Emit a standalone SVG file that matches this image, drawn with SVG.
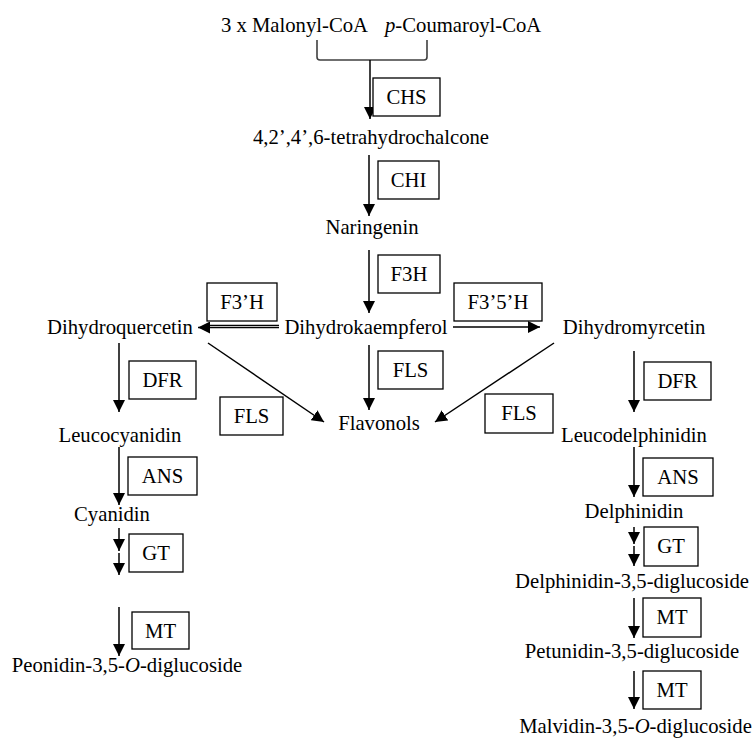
<svg xmlns="http://www.w3.org/2000/svg" width="755" height="738" viewBox="0 0 755 738">
<defs>
<marker id="ahs" viewBox="0 0 10 10" refX="10" refY="5" markerWidth="12" markerHeight="12" markerUnits="userSpaceOnUse" orient="auto">
<path d="M0,0 L10,5 L0,10 z" fill="#000"/>
</marker>
</defs>
<style>
text{font-family:"Liberation Serif","Times New Roman",serif;font-size:20.7px;fill:#000}
.c{text-anchor:middle}
.box{fill:#fff;stroke:#000;stroke-width:1.3}
.arr{stroke:#000;stroke-width:1.5;fill:none;marker-end:url(#ahs)}
.br{stroke:#404040;stroke-width:1.6;fill:none}
</style>
<rect width="755" height="738" fill="#fff"/>

<g id="connectors">
<path class="br" d="M317,40 V57 Q317,60 320,60 H424 Q427,60 427,57 V40"/>
<line class="arr" x1="370" y1="60" x2="370" y2="119"/>
<line class="arr" x1="369" y1="155" x2="369" y2="216"/>
<line class="arr" x1="369" y1="250" x2="369" y2="313"/>
<line class="arr" x1="369" y1="345" x2="369" y2="410"/>
<line x1="279" y1="325.3" x2="205" y2="325.3" stroke="#000" stroke-width="1.2"/>
<line class="arr" x1="279" y1="327.5" x2="198" y2="327.5"/>
<line class="arr" x1="453" y1="327" x2="540" y2="327"/>
<line class="arr" x1="208" y1="343" x2="324" y2="422"/>
<line class="arr" x1="554" y1="343" x2="435" y2="422"/>
<line class="arr" x1="119" y1="343" x2="119" y2="412"/>
<line class="arr" x1="634" y1="351" x2="634" y2="412"/>
<line class="arr" x1="119" y1="447" x2="119" y2="505"/>
<line class="arr" x1="634" y1="447" x2="634" y2="497"/>
<line class="arr" x1="119" y1="528" x2="119" y2="551"/>
<line class="arr" x1="119" y1="553" x2="119" y2="575"/>
<line class="arr" x1="119" y1="607" x2="119" y2="656"/>
<line class="arr" x1="634" y1="527" x2="634" y2="544"/>
<line class="arr" x1="634" y1="546" x2="634" y2="566"/>
<line class="arr" x1="634" y1="598" x2="634" y2="638"/>
<line class="arr" x1="634" y1="671" x2="634" y2="709"/>
</g>

<g id="substrates">
<text x="368" y="32" text-anchor="end">3 x Malonyl-CoA</text>
<text x="385" y="32"><tspan font-style="italic">p</tspan>-Coumaroyl-CoA</text>
</g>
<g id="chalcone"><text class="c" x="371" y="144">4,2’,4’,6-tetrahydrochalcone</text></g>
<g id="naringenin"><text class="c" x="372" y="234">Naringenin</text></g>
<g id="dihydrokaempferol"><text class="c" x="366" y="334">Dihydrokaempferol</text></g>
<g id="dihydroquercetin"><text class="c" x="120" y="334">Dihydroquercetin</text></g>
<g id="dihydromyrcetin"><text class="c" x="634" y="334">Dihydromyrcetin</text></g>
<g id="flavonols"><text class="c" x="379" y="430">Flavonols</text></g>
<g id="leucocyanidin"><text class="c" x="120" y="442">Leucocyanidin</text></g>
<g id="leucodelphinidin"><text class="c" x="634" y="442">Leucodelphinidin</text></g>
<g id="cyanidin"><text class="c" x="112" y="521">Cyanidin</text></g>
<g id="delphinidin"><text class="c" x="634" y="518">Delphinidin</text></g>
<g id="peonidin"><text class="c" x="127" y="672">Peonidin-3,5-<tspan font-style="italic">O</tspan>-diglucoside</text></g>
<g id="delphinidin-dg"><text class="c" x="632" y="588">Delphinidin-3,5-diglucoside</text></g>
<g id="petunidin"><text class="c" x="632" y="658">Petunidin-3,5-diglucoside</text></g>
<g id="malvidin"><text class="c" x="635.5" y="733">Malvidin-3,5-<tspan font-style="italic">O</tspan>-diglucoside</text></g>

<g id="e-chs"><rect class="box" x="373" y="78" width="67" height="38"/><text class="c" x="406.5" y="104">CHS</text></g>
<g id="e-chi"><rect class="box" x="378" y="161" width="61" height="38"/><text class="c" x="408.5" y="187">CHI</text></g>
<g id="e-f3h"><rect class="box" x="378" y="255" width="62" height="38"/><text class="c" x="409" y="281">F3H</text></g>
<g id="e-f3ph"><rect class="box" x="207" y="283" width="70" height="38"/><text class="c" x="242" y="309">F3’H</text></g>
<g id="e-f35h"><rect class="box" x="454" y="283" width="88" height="38"/><text class="c" x="498" y="309">F3’5’H</text></g>
<g id="e-fls-mid"><rect class="box" x="378" y="351" width="65" height="38"/><text class="c" x="410.5" y="377">FLS</text></g>
<g id="e-fls-left"><rect class="box" x="220" y="397" width="63" height="38"/><text class="c" x="251.5" y="423">FLS</text></g>
<g id="e-fls-right"><rect class="box" x="485" y="394" width="68" height="39"/><text class="c" x="519" y="420">FLS</text></g>
<g id="e-dfr-left"><rect class="box" x="129" y="361" width="67" height="38"/><text class="c" x="162.5" y="387">DFR</text></g>
<g id="e-dfr-right"><rect class="box" x="644" y="362" width="67" height="38"/><text class="c" x="677.5" y="388">DFR</text></g>
<g id="e-ans-left"><rect class="box" x="128" y="457" width="69" height="38"/><text class="c" x="162.5" y="483">ANS</text></g>
<g id="e-ans-right"><rect class="box" x="643" y="458" width="70" height="38"/><text class="c" x="678" y="484">ANS</text></g>
<g id="e-gt-left"><rect class="box" x="129" y="534" width="54" height="38"/><text class="c" x="156" y="560">GT</text></g>
<g id="e-gt-right"><rect class="box" x="644" y="527" width="54" height="39"/><text class="c" x="671" y="553">GT</text></g>
<g id="e-mt-left"><rect class="box" x="132" y="612" width="57" height="37"/><text class="c" x="160.5" y="638">MT</text></g>
<g id="e-mt-right1"><rect class="box" x="643" y="598" width="58" height="39"/><text class="c" x="672" y="624">MT</text></g>
<g id="e-mt-right2"><rect class="box" x="643" y="671" width="58" height="38"/><text class="c" x="672" y="697">MT</text></g>
</svg>
